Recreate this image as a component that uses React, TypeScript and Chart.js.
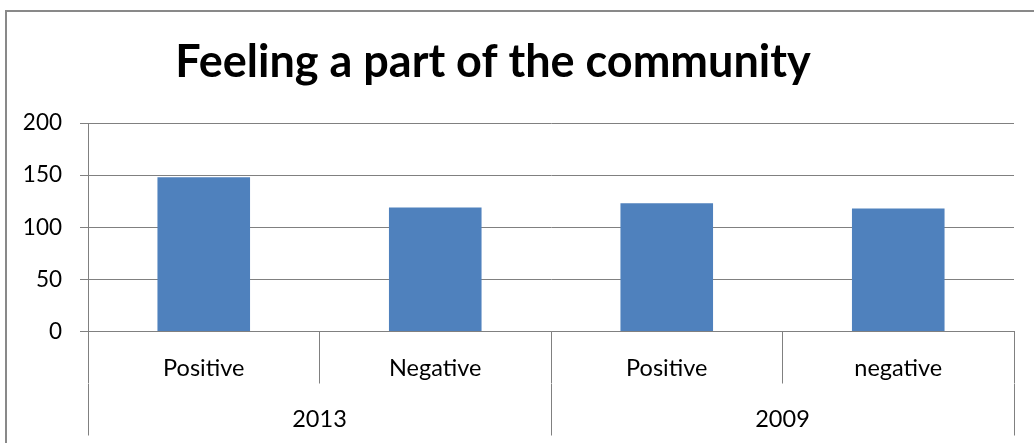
import React, { useEffect, useRef } from "react";
import { Chart, registerables } from "chart.js";

Chart.register(...registerables);

const TITLE = "Feeling a part of the community";
const categories = ["Positive", "Negative", "Positive", "negative"];
const groups = ["2013", "2009"];
const values = [148, 119, 123, 118];
const yTicks = [0, 50, 100, 150, 200];

const FONT = "Lato, 'Open Sans', sans-serif";

const framePlugin = {
  id: "frame",
  beforeDraw(chart: any) {
    const ctx = chart.ctx;
    ctx.save();
    ctx.fillStyle = "#ffffff";
    ctx.fillRect(0, 0, chart.width, chart.height);
    ctx.strokeStyle = "#898989";
    ctx.lineWidth = 2;
    ctx.beginPath();
    ctx.moveTo(6, chart.height + 5);
    ctx.lineTo(6, 11);
    ctx.lineTo(chart.width + 5, 11);
    ctx.stroke();
    ctx.restore();
  },
  afterDraw(chart: any) {
    const ctx = chart.ctx;
    ctx.save();
    ctx.fillStyle = "#000000";
    ctx.font = `bold 45px ${FONT}`;
    ctx.textAlign = "center";
    ctx.textBaseline = "alphabetic";
    ctx.fillText(TITLE, 493, 77);
    ctx.restore();
  },
};

export default function App() {
  const ref = useRef<HTMLCanvasElement | null>(null);
  useEffect(() => {
    if (!ref.current) return;
    const gridColor = "#808080";
    const chart = new Chart(ref.current, {
      type: "bar",
      data: {
        labels: categories,
        datasets: [
          {
            data: values,
            backgroundColor: "#4F81BD",
            borderWidth: 0,
            barPercentage: 0.4,
            categoryPercentage: 1,
          },
        ],
      },
      options: {
        responsive: false,
        animation: false,
        layout: { padding: { left: 0, top: 123, right: 20, bottom: 0 } },
        plugins: {
          legend: { display: false },
          title: { display: false },
          tooltip: { enabled: false },
        },
        scales: {
          x: {
            type: "category",
            position: "bottom",
            weight: 0,
            offset: true,
            afterFit(scale: any) {
              scale.height = 52;
            },
            grid: {
              offset: true,
              drawOnChartArea: false,
              drawTicks: true,
              tickLength: 52,
              color: gridColor,
              lineWidth: 1,
            },
            border: { display: true, color: gridColor, width: 1 },
            ticks: {
              color: "#000000",
              font: { family: FONT, size: 23.5 },
              padding: -29.5,
              maxRotation: 0,
              autoSkip: false,
            },
          },
          x2: {
            type: "category",
            position: "bottom",
            weight: 1,
            labels: groups,
            offset: true,
            afterFit(scale: any) {
              scale.height = 59.5;
            },
            grid: {
              offset: true,
              drawOnChartArea: false,
              drawTicks: true,
              tickLength: 52,
              color: gridColor,
              lineWidth: 1,
            },
            border: { display: false },
            ticks: {
              color: "#000000",
              font: { family: FONT, size: 23.5 },
              padding: -30.5,
              maxRotation: 0,
              autoSkip: false,
            },
          },
          y: {
            type: "linear",
            position: "left",
            min: 0,
            max: 200,
            afterFit(scale: any) {
              scale.width = 88;
            },
            afterBuildTicks(scale: any) {
              scale.ticks = yTicks.map((v) => ({ value: v }));
            },
            grid: {
              color: gridColor,
              lineWidth: 1,
              tickLength: 8,
            },
            border: { display: true, color: gridColor, width: 1 },
            ticks: {
              color: "#000000",
              font: { family: FONT, size: 22.5 },
              padding: 18,
            },
          },
        },
      },
      plugins: [framePlugin],
    });
    return () => chart.destroy();
  }, []);

  return (
    <div style={{ position: "fixed", left: 0, top: 0, width: 1034, height: 443 }}>
      <canvas ref={ref} width={1034} height={443} />
    </div>
  );
}
